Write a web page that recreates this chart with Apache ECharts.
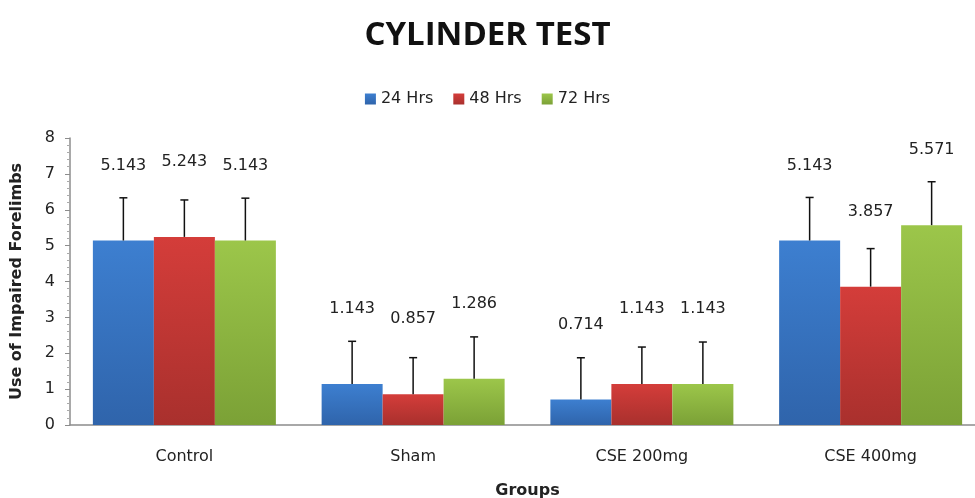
<!DOCTYPE html>
<html>
<head>
<meta charset="utf-8">
<script src="https://cdn.jsdelivr.net/npm/echarts@6/dist/echarts.min.js"></script>
<style>
  html, body { margin: 0; padding: 0; background: #fff; }
  #chart { width: 975px; height: 498px; }
</style>
</head>
<body>
<div id="chart"></div>
<script>
// groups and values
var groups = ['Control', 'Sham', 'CSE 200mg', 'CSE 400mg'];
var seriesNames = ['24 Hrs', '48 Hrs', '72 Hrs'];
var hrs24 = [5.143, 1.143, 0.714, 5.143];
var hrs48 = [5.243, 0.857, 1.143, 3.857];
var hrs72 = [5.143, 1.286, 1.143, 5.571];
// error bar heights (estimated)
var err24 = [1.19, 1.19, 1.16, 1.20];
var err48 = [1.03, 1.02, 1.03, 1.06];
var err72 = [1.18, 1.17, 1.17, 1.21];
var yTicks = [0, 1, 2, 3, 4, 5, 6, 7, 8];

var values = [hrs24, hrs48, hrs72];
var errors = [err24, err48, err72];
var colors = [
  ['#3d7fd0', '#2f64ab'],
  ['#d43d3a', '#a9302d'],
  ['#9cc64a', '#7ba136']
];
var labelFont = '"DejaVu Sans", sans-serif';

var mychart = echarts.init(document.getElementById('chart'));

function grad(c) {
  return new echarts.graphic.LinearGradient(0, 0, 0, 1, [
    { offset: 0, color: c[0] },
    { offset: 1, color: c[1] }
  ]);
}

var series = [];
values.forEach(function (vals, i) {
  series.push({
    name: seriesNames[i],
    type: 'bar',
    data: vals,
    barGap: '0%',
    barCategoryGap: '20%',
    itemStyle: { color: grad(colors[i]) },
    label: {
      show: true,
      position: 'top',
      distance: 67,
      color: '#222',
      fontSize: 16,
      fontFamily: labelFont,
      formatter: function (p) { return p.value.toFixed(3); }
    },
    z: 2
  });
});

values.forEach(function (vals, i) {
  series.push({
    type: 'custom',
    name: 'err' + i,
    data: vals.map(function (v, k) { return [k, v, v + errors[i][k]]; }),
    z: 5,
    silent: true,
    renderItem: function (params, api) {
      var band = api.size([1, 0])[0];
      var bw = band * 0.8 / 3;
      var off = (i - 1) * bw;
      var base = api.coord([api.value(0), api.value(1)]);
      var top = api.coord([api.value(0), api.value(2)]);
      var x = base[0] + off;
      var cap = 4;
      var st = { stroke: '#111', lineWidth: 1.5 };
      return {
        type: 'group',
        children: [
          { type: 'line', shape: { x1: x, y1: base[1], x2: x, y2: top[1] }, style: st },
          { type: 'line', shape: { x1: x - cap, y1: top[1], x2: x + cap, y2: top[1] }, style: st }
        ]
      };
    }
  });
});

var option = {
  animation: false,
  title: {
    text: 'CYLINDER TEST',
    left: 'center',
    top: 14,
    textStyle: {
      fontFamily: '"Open Sans", sans-serif',
      fontWeight: 'bold',
      fontSize: 33,
      color: '#111'
    }
  },
  legend: {
    top: 86,
    left: 'center',
    data: seriesNames,
    itemWidth: 11,
    itemHeight: 11,
    itemGap: 20,
    icon: 'rect',
    textStyle: { fontSize: 16, fontFamily: labelFont, color: '#222' }
  },
  grid: {
    left: 70, right: -10, top: 138, bottom: 73,
    containLabel: false,
    outerBoundsMode: 'none'
  },
  xAxis: {
    type: 'category',
    data: groups,
    name: 'Groups',
    nameLocation: 'middle',
    nameGap: 58,
    nameTextStyle: { fontWeight: 'bold', fontSize: 16, fontFamily: labelFont, color: '#222' },
    axisLine: { lineStyle: { color: '#8c8c8c', width: 1.5 } },
    axisTick: { show: false },
    axisLabel: { fontSize: 16, fontFamily: labelFont, color: '#222', margin: 24 }
  },
  yAxis: {
    type: 'value',
    min: yTicks[0],
    max: yTicks[yTicks.length - 1],
    interval: 1,
    name: 'Use of Impaired Forelimbs',
    nameLocation: 'middle',
    nameGap: 45,
    nameTextStyle: { fontWeight: 'bold', fontSize: 16, fontFamily: labelFont, color: '#222' },
    axisLine: { show: true, lineStyle: { color: '#8c8c8c', width: 1.5 } },
    axisTick: { show: true, length: 5, lineStyle: { color: '#8c8c8c' } },
    minorTick: { show: true, splitNumber: 5, length: 3, lineStyle: { color: '#aaa' } },
    splitLine: { show: false },
    axisLabel: { fontSize: 16, fontFamily: labelFont, color: '#222', margin: 15 }
  },
  series: series
};

mychart.setOption(option);
</script>
</body>
</html>
